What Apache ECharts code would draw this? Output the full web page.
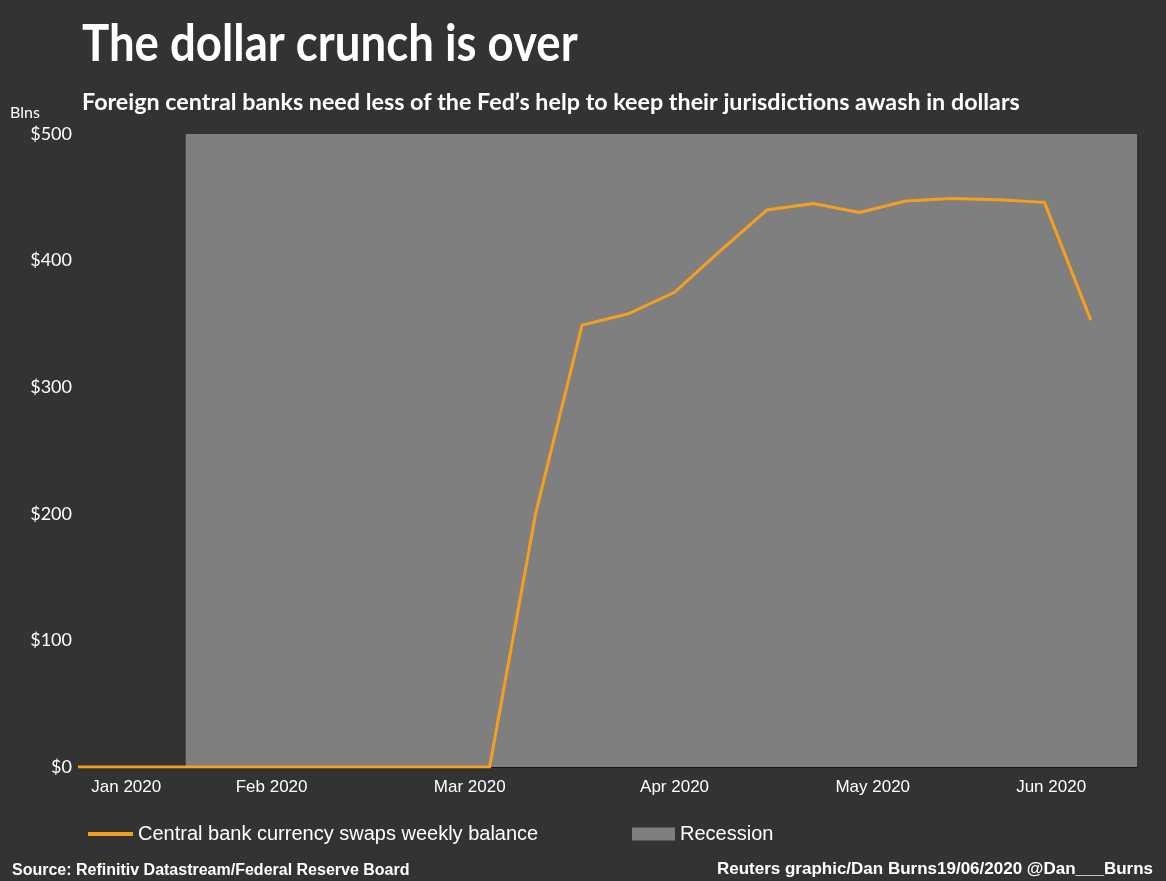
<!DOCTYPE html>
<html>
<head>
<meta charset="utf-8">
<script src="https://cdn.jsdelivr.net/npm/echarts@6/dist/echarts.min.js"></script>
<style>
  html, body { margin: 0; padding: 0; background: #333333; }
  #chart { width: 1166px; height: 881px; }
</style>
</head>
<body>
<div id="chart"></div>
<script>
// Weekly (Wednesday) balance of Fed central bank liquidity swaps, $ billions
const weekDates = [
  '2020-01-15', '2020-01-22', '2020-01-29', '2020-02-05', '2020-02-12',
  '2020-02-19', '2020-02-26', '2020-03-04', '2020-03-11', '2020-03-18',
  '2020-03-25', '2020-04-01', '2020-04-08', '2020-04-15', '2020-04-22',
  '2020-04-29', '2020-05-06', '2020-05-13', '2020-05-20', '2020-05-27',
  '2020-06-03', '2020-06-10', '2020-06-17'
];
const swapBalance = [
  0, 0, 0, 0, 0,
  0, 0, 0, 0, 0,
  201, 349, 358, 375, 408,
  440, 445, 438, 447, 449,
  448, 446, 353
];

// Axis range and recession shading
const axisStart = '2020-01-16';
const axisEnd = '2020-06-24';
const recessionStart = '2020-02-01';

// Month labels, each placed within the visible span of its month
const monthTickDates = ['2020-01-23', '2020-02-14', '2020-03-15', '2020-04-15', '2020-05-15', '2020-06-11'];
const monthTickLabels = ['Jan 2020', 'Feb 2020', 'Mar 2020', 'Apr 2020', 'May 2020', 'Jun 2020'];

// Value axis ticks
const yTicks = [0, 100, 200, 300, 400, 500];

function toTime(s) {
  const p = s.split('-').map(Number);
  return Date.UTC(p[0], p[1] - 1, p[2]);
}

const tickTimes = monthTickDates.map(toTime);
const tickLabelByTime = {};
tickTimes.forEach((t, i) => { tickLabelByTime[t] = monthTickLabels[i]; });

const lineData = weekDates.map((d, i) => [toTime(d), swapBalance[i]]);

const plain = "'Liberation Sans', Arial, sans-serif";
const humanist = "Lato, 'Open Sans', sans-serif";

const chart = echarts.init(document.getElementById('chart'), null, { renderer: 'canvas' });

chart.setOption({
  backgroundColor: '#333333',
  animation: false,
  // Headline set in a condensed cut of the bold face
  graphic: [
    {
      type: 'text',
      x: 82, y: 18,
      scaleX: 0.876,
      style: {
        text: 'The dollar crunch is over',
        fill: '#ffffff',
        font: 'bold 52px Lato, "Open Sans", sans-serif',
        verticalAlign: 'top'
      }
    }
  ],
  title: [
    {
      text: 'Foreign central banks need less of the Fed\u2019s help to keep their jurisdictions awash in dollars',
      left: 77, top: 86,
      textStyle: { color: '#ffffff', fontSize: 23.3, fontWeight: 'bold', fontFamily: humanist }
    },
    {
      text: 'Blns',
      left: 5, top: 100,
      textStyle: { color: '#ffffff', fontSize: 16, fontWeight: 'normal', fontFamily: humanist }
    },
    {
      text: 'Source: Refinitiv Datastream/Federal Reserve Board',
      left: 7, top: 858,
      textStyle: { color: '#ffffff', fontSize: 16, fontWeight: 'bold', fontFamily: plain }
    },
    {
      text: 'Reuters graphic/Dan Burns19/06/2020 @Dan___Burns',
      right: 8, top: 856,
      textStyle: { color: '#ffffff', fontSize: 17, fontWeight: 'bold', fontFamily: plain }
    }
  ],
  legend: [
    {
      data: [{ name: 'Central bank currency swaps weekly balance', icon: 'rect' }],
      left: 83, top: 819,
      itemWidth: 45, itemHeight: 4, itemGap: 8,
      textStyle: { color: '#ffffff', fontSize: 20, fontFamily: plain }
    },
    {
      data: [{ name: 'Recession', icon: 'rect' }],
      left: 627, top: 819,
      itemWidth: 43, itemHeight: 13, itemGap: 8,
      textStyle: { color: '#ffffff', fontSize: 20, fontFamily: plain }
    }
  ],
  grid: { left: 80, right: 29, top: 134, bottom: 114, containLabel: false },
  xAxis: {
    type: 'value',
    min: toTime(axisStart),
    max: toTime(axisEnd),
    splitLine: { show: false },
    axisTick: { show: false },
    axisLine: { show: true, lineStyle: { color: '#111111', width: 1.5 } },
    axisLabel: {
      customValues: tickTimes,
      formatter: (v) => tickLabelByTime[v] || '',
      color: '#ffffff', fontSize: 17, fontFamily: plain, margin: 12
    }
  },
  yAxis: {
    type: 'value',
    min: yTicks[0], max: yTicks[yTicks.length - 1], interval: 100,
    splitLine: { show: false },
    axisTick: { show: false },
    axisLine: { show: false },
    axisLabel: {
      formatter: (v) => '$' + v,
      color: '#ffffff', fontSize: 18, fontFamily: humanist, margin: 8
    }
  },
  series: [
    {
      name: 'Recession',
      type: 'bar',
      data: [],
      itemStyle: { color: '#7f7f7f' },
      markArea: {
        silent: true,
        itemStyle: { color: '#7f7f7f' },
        data: [[{ xAxis: toTime(recessionStart) }, { xAxis: toTime(axisEnd) }]]
      }
    },
    {
      name: 'Central bank currency swaps weekly balance',
      type: 'line',
      data: lineData,
      showSymbol: false,
      symbol: 'none',
      clip: true,
      itemStyle: { color: '#f5a01c' },
      lineStyle: { color: '#f5a01c', width: 3, join: 'miter' },
      z: 5
    }
  ]
});
</script>
</body>
</html>
